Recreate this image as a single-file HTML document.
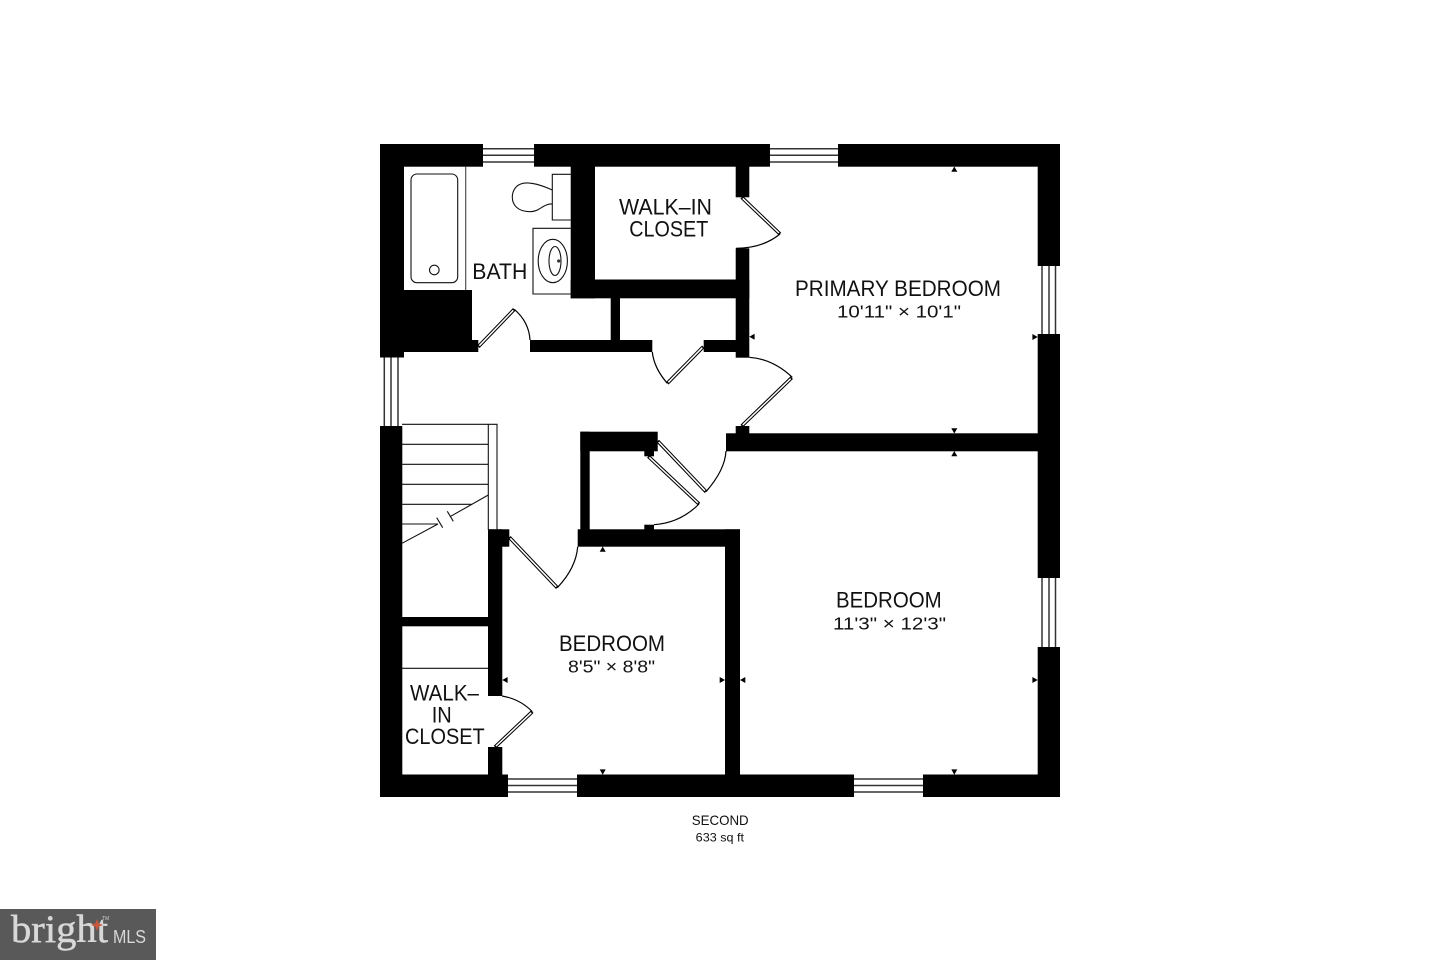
<!DOCTYPE html>
<html lang="en">
<head>
<meta charset="utf-8">
<title>Second floor plan</title>
<style>
html,body{margin:0;padding:0;background:#fff;width:1440px;height:960px;overflow:hidden}
svg{display:block}
text{font-family:"Liberation Sans",sans-serif;fill:#111}
</style>
</head>
<body>
<svg width="1440" height="960" viewBox="0 0 1440 960" xmlns="http://www.w3.org/2000/svg">
<rect width="1440" height="960" fill="#fff"/>

<!-- Windows -->
<g stroke="#333" stroke-width="1.5" fill="none">
  <path d="M483 148.7H534M483 155.3H534M483 162H534"/>
  <path d="M770 148.7H838M770 155.3H838M770 162H838"/>
  <path d="M1042 266V334M1049 266V334M1055.5 266V334"/>
  <path d="M1042 578V647M1049 578V647M1055.5 578V647"/>
  <path d="M508 779H577M508 785.5H577M508 792H577"/>
  <path d="M854 779H923M854 785.5H923M854 792H923"/>
  <path d="M384.3 357V426M391 357V426M398 357V426"/>
</g>

<!-- Walls -->
<g fill="#000">
  <rect x="380" y="144" width="103" height="22.7"/>
  <rect x="534" y="144" width="236" height="22.7"/>
  <rect x="838" y="144" width="222" height="22.7"/>
  <rect x="1037.7" y="144" width="22.3" height="122"/>
  <rect x="1037.7" y="334" width="22.3" height="244"/>
  <rect x="1037.7" y="647" width="22.3" height="150"/>
  <rect x="380" y="774.5" width="128" height="22.5"/>
  <rect x="577" y="774.5" width="277" height="22.5"/>
  <rect x="923" y="774.5" width="137" height="22.5"/>
  <rect x="380" y="144" width="24" height="213.5"/>
  <rect x="380" y="426" width="22.3" height="371"/>
  <rect x="380" y="290" width="92" height="62"/>
  <rect x="380" y="340" width="98.3" height="12"/>
  <rect x="380" y="340" width="22.3" height="17.5"/>
  <rect x="570.7" y="144" width="24.3" height="154.3"/>
  <rect x="570.7" y="279.5" width="178.6" height="18.8"/>
  <rect x="735.7" y="144" width="13.6" height="53.3"/>
  <rect x="735.7" y="248.3" width="13.6" height="109.4"/>
  <rect x="530" y="340" width="122.3" height="12"/>
  <rect x="703.7" y="340" width="40" height="12"/>
  <rect x="610.7" y="298" width="9.3" height="44"/>
  <rect x="735.7" y="426" width="13.6" height="10"/>
  <rect x="726" y="433.3" width="312" height="18"/>
  <rect x="580.3" y="431.7" width="77.4" height="19.6"/>
  <rect x="644.3" y="450" width="9.7" height="6.3"/>
  <rect x="580.3" y="431.7" width="9.4" height="100"/>
  <rect x="577.7" y="529.3" width="162.3" height="17.4"/>
  <rect x="644.3" y="524.7" width="9.7" height="6"/>
  <rect x="725" y="529.3" width="15" height="246"/>
  <rect x="488" y="529.3" width="21.3" height="17.4"/>
  <rect x="488" y="529.3" width="14.3" height="166.7"/>
  <rect x="488" y="747" width="14.3" height="28"/>
  <rect x="402" y="617" width="86" height="9.3"/>
</g>

<!-- Door arcs -->
<g fill="none" stroke="#000" stroke-width="1.2">
  <path d="M514.3 309.3Q529 322 530 340"/>
  <path d="M780 234Q763 248 736 248.3"/>
  <path d="M667.3 383.3Q654 368 652.3 352"/>
  <path d="M749.3 357.3Q773 359 792.3 377.3"/>
  <path d="M706 491.7Q725 470 726 451"/>
  <path d="M699 504Q680 523 654 524.7"/>
  <path d="M557.3 587.7Q576 568 577.7 546.7"/>
  <path d="M532.3 711.7Q520 699 502 696"/>
</g>
<!-- Door leaves -->
<g fill="none" stroke="#000" stroke-width="3.6">
  <path d="M478.3 346.7L514.3 309.3"/>
  <path d="M741.7 197.3L780 234"/>
  <path d="M703.3 346.7L667.3 383.3"/>
  <path d="M791.7 377.7L741.7 426"/>
  <path d="M657.7 441L706 491.7"/>
  <path d="M648.3 456.3L699 504"/>
  <path d="M509.3 537.3L557.3 587.7"/>
  <path d="M495 747L532.3 711.7"/>
</g>
<g fill="none" stroke="#fff" stroke-width="1.5">
  <path d="M479.3 345.7L513.3 310.3"/>
  <path d="M742.7 198.3L779 233"/>
  <path d="M702.3 347.7L668.3 382.3"/>
  <path d="M790.7 378.7L742.7 425"/>
  <path d="M658.7 442L705 490.7"/>
  <path d="M649.3 457.3L698 503"/>
  <path d="M510.3 538.3L556.3 586.7"/>
  <path d="M496 746L531.3 712.7"/>
</g>

<!-- Fixtures -->
<g fill="none" stroke="#111" stroke-width="1.1">
  <path d="M465.7 166.7V290" stroke="#444"/>
  <rect x="411" y="174" width="46.7" height="108.7" rx="6"/>
  <circle cx="434.3" cy="270" r="4.8"/>
  <path d="M570.7 174.3H552.3V220H570.7"/>
  <path d="M552.3 190C541 185 531 181.7 523 183.3C515 185 512.3 191.7 512.3 197.3C512.3 205 518 211.7 530 211.7C540 211.7 543 203.5 552.3 204"/>
  <path d="M570.7 228.3H533V294H570.7"/>
  <ellipse cx="552.8" cy="261" rx="14.6" ry="21.7"/>
  <ellipse cx="555" cy="261" rx="6" ry="14.5"/>
</g>
<circle cx="558.7" cy="261" r="1.6" fill="#333"/>

<!-- Stairs -->
<g fill="none" stroke="#111" stroke-width="1.1">
  <path d="M402 424.3H497V530"/>
  <path d="M488.3 424.3V530"/>
  <path d="M402 444.3H488.3M402 464.3H488.3M402 484.3H488.3M402 504.3H471.7M402 524H438"/>
  <path d="M402 543.3L438 524"/>
  <path d="M450 516.7L488.3 495"/>
  <path d="M436.7 517.7L442.7 527.7M447.3 511.3L453.3 521.3"/>
  <path d="M402 668.3H488"/>
</g>

<!-- Dimension arrows -->
<g fill="#000">
  <path d="M954.3 166.5L957.3 171.8H951.3Z"/>
  <path d="M954.3 433.5L957.3 428.2H951.3Z"/>
  <path d="M954.3 451L957.3 456.3H951.3Z"/>
  <path d="M1037.7 337L1032.4 334V340Z"/>
  <path d="M749.3 336.7L754.6 333.7V339.7Z"/>
  <path d="M602.7 546.5L605.7 551.8H599.7Z"/>
  <path d="M502.3 680L507.6 677V683Z"/>
  <path d="M602.7 774.7L605.7 769.4H599.7Z"/>
  <path d="M725 680L719.7 677V683Z"/>
  <path d="M740 680L745.3 677V683Z"/>
  <path d="M1037.7 680L1032.4 677V683Z"/>
  <path d="M954.3 774.7L957.3 769.4H951.3Z"/>
</g>

<!-- Labels -->
<g font-size="22">
  <text x="619" y="214.7" textLength="93" lengthAdjust="spacingAndGlyphs">WALK–IN</text>
  <text x="629.3" y="236.7" textLength="79" lengthAdjust="spacingAndGlyphs">CLOSET</text>
  <text x="472.3" y="279" textLength="55" lengthAdjust="spacingAndGlyphs">BATH</text>
  <text x="795" y="296" textLength="206" lengthAdjust="spacingAndGlyphs">PRIMARY BEDROOM</text>
  <text x="836" y="607.7" textLength="105.7" lengthAdjust="spacingAndGlyphs">BEDROOM</text>
  <text x="559" y="651" textLength="106" lengthAdjust="spacingAndGlyphs">BEDROOM</text>
  <text x="410" y="700.7" textLength="69" lengthAdjust="spacingAndGlyphs">WALK–</text>
  <text x="431.7" y="722.3" textLength="20" lengthAdjust="spacingAndGlyphs">IN</text>
  <text x="405" y="744" textLength="79.7" lengthAdjust="spacingAndGlyphs">CLOSET</text>
</g>
<g font-size="17.5">
  <text x="837" y="317.7" textLength="124" lengthAdjust="spacingAndGlyphs">10'11" × 10'1"</text>
  <text x="833" y="629.3" textLength="113" lengthAdjust="spacingAndGlyphs">11'3" × 12'3"</text>
  <text x="568" y="672.7" textLength="87" lengthAdjust="spacingAndGlyphs">8'5" × 8'8"</text>
</g>
<text x="691.7" y="825" font-size="14" textLength="57" lengthAdjust="spacingAndGlyphs">SECOND</text>
<text x="695.7" y="841.7" font-size="12" textLength="48.3" lengthAdjust="spacingAndGlyphs">633 sq ft</text>

<!-- Watermark -->
<rect x="0" y="909" width="156" height="51" fill="#595959"/>
<text x="11" y="942" font-size="39" textLength="97" lengthAdjust="spacingAndGlyphs" stroke="#d8d8d8" stroke-width="0.5" style="font-family:'Liberation Serif',serif;fill:#d8d8d8">bright</text>
<path d="M97 919L98.6 923.4L103 925L98.6 926.6L97 931L95.4 926.6L91 925L95.4 923.4Z" fill="#c9573d"/>
<text x="102" y="920" font-size="5" style="fill:#ccc">TM</text>
<text x="113" y="943" font-size="18" textLength="33" lengthAdjust="spacingAndGlyphs" style="fill:#d8d8d8">MLS</text>
</svg>
</body>
</html>
